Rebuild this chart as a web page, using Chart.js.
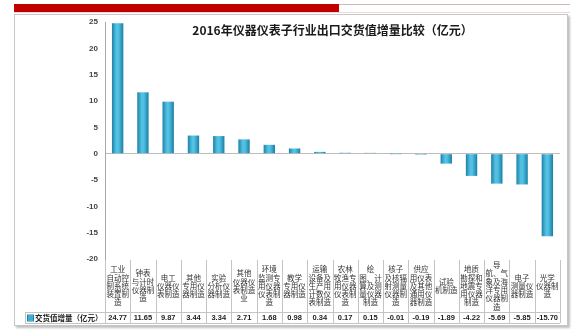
<!DOCTYPE html>
<html>
<head>
<meta charset="utf-8">
<script src="https://cdn.jsdelivr.net/npm/chart.js@4.4.1/dist/chart.umd.min.js"></script>
<style>
  html, body { margin: 0; padding: 0; background: #fff; }
  #wrap { position: relative; width: 580px; height: 336px; overflow: hidden; }
  .redbar { position: absolute; left: 14px; top: 4px; width: 325px; height: 8px; background: #c00000; }
  .thinline { position: absolute; left: 339px; top: 4px; width: 231px; height: 1px; background: #d6b8b8; }
  .pinkline { position: absolute; left: 14px; top: 12px; width: 556px; height: 1px; background: #efd6d6; }
  .frame { position: absolute; left: 14px; top: 14px; width: 552px; height: 310px; border: 1px solid #c6c6c6; box-shadow: 2px 2px 2px #c0c0c0; }
  canvas { position: absolute; left: 0; top: 0; }
</style>
</head>
<body>
<div id="wrap">
  <div class="redbar"></div>
  <div class="thinline"></div>
  <div class="pinkline"></div>
  <div class="frame"></div>
  <canvas id="bar-chart" width="580" height="336"></canvas>
</div>
<script>
// data
const chartTitle = '2016年仪器仪表子行业出口交货值增量比较（亿元）';
const seriesName = '交货值增量（亿元）';
const categories = [
  ['工业', '自动控', '制系统', '装置制', '造'],
  ['钟表', '与计时', '仪器制', '造'],
  ['电工', '仪器仪', '表制造'],
  ['其他', '专用仪', '器制造'],
  ['实验', '分析仪', '器制造'],
  ['其他', '仪器仪', '表制造', '业'],
  ['环境', '监测专', '用仪器', '仪表制', '造'],
  ['教学', '专用仪', '器制造'],
  ['运输', '设备及', '生产用', '计数仪', '表制造'],
  ['农林', '牧渔专', '用仪器', '仪表制', '造'],
  ['绘', '图、计', '算及测', '量仪器', '制造'],
  ['核子', '及核辐', '射测量', '仪器制', '造'],
  ['供应', '用仪表', '及其他', '通用仪', '器制造'],
  ['试验', '机制造'],
  ['地质', '勘探和', '地震专', '用仪器', '制造'],
  ['导', '航、气', '象及海', '洋专用', '仪器制', '造'],
  ['电子', '测量仪', '器制造'],
  ['光学', '仪器制', '造']
];
const values = [24.77, 11.65, 9.87, 3.44, 3.34, 2.71, 1.68, 0.98, 0.34, 0.17, 0.15, -0.01, -0.19, -1.89, -4.22, -5.69, -5.85, -15.70];
const yMin = -20;
const yMax = 25;
const yStep = 5;

const barPct = 0.45;

// titel di dalam area plot (overlay)
const titlePlugin = {
  id: 'overlayTitle',
  afterDraw(chart) {
    const { ctx, chartArea: a } = chart;
    ctx.save();
    ctx.font = 'bold 12px "Noto Sans CJK SC"';
    ctx.fillStyle = '#1a1a1a';
    ctx.textAlign = 'center';
    ctx.textBaseline = 'middle';
    ctx.fillText(chartTitle, (a.left + a.right) / 2, 30);
    ctx.restore();
  }
};

// tabel data di bawah grafik
const tablePlugin = {
  id: 'dataTable',
  afterDraw(chart) {
    const { ctx, chartArea: a, scales: { x } } = chart;
    const n = categories.length;
    const colW = (a.right - a.left) / n;
    const top = a.bottom + 1;
    const mid = top + 52;
    const bot = mid + 11;
    const legendLeft = 25;

    ctx.save();
    ctx.strokeStyle = '#c4c4c4';
    ctx.lineWidth = 1;
    ctx.beginPath();
    for (let i = 0; i <= n; i++) {
      const px = Math.round(a.left + i * colW) + 0.5;
      ctx.moveTo(px, top);
      ctx.lineTo(px, bot);
    }
    ctx.moveTo(legendLeft + 0.5, mid);
    ctx.lineTo(legendLeft + 0.5, bot);
    ctx.moveTo(legendLeft, mid + 0.5);
    ctx.lineTo(a.right, mid + 0.5);
    ctx.moveTo(legendLeft, bot + 0.5);
    ctx.lineTo(a.right, bot + 0.5);
    ctx.stroke();

    // nama kategori
    ctx.fillStyle = '#333';
    ctx.textAlign = 'center';
    ctx.textBaseline = 'middle';
    ctx.font = '7.5px "Noto Sans CJK SC"';
    const lh = 8.3;
    const cy = (top + mid) / 2;
    categories.forEach((lines, i) => {
      const cx = x.getPixelForValue(i);
      const y0 = cy - (lines.length - 1) * lh / 2;
      lines.forEach((t, j) => ctx.fillText(t, cx, y0 + j * lh));
    });

    // nilai
    const vy = (mid + bot) / 2 + 0.5;
    ctx.font = 'bold 7.5px "Liberation Sans"';
    ctx.fillStyle = '#222';
    values.forEach((v, i) => {
      ctx.fillText(v.toFixed(2), x.getPixelForValue(i), vy);
    });

    // legenda
    ctx.fillStyle = '#3aaed3';
    ctx.strokeStyle = '#1d84a8';
    ctx.fillRect(28, vy - 2.5, 5, 5);
    ctx.strokeRect(27.5, vy - 3, 6, 6);
    ctx.fillStyle = '#222';
    ctx.textAlign = 'left';
    ctx.font = 'bold 7.5px "Noto Sans CJK SC"';
    ctx.fillText(seriesName, 35, vy);
    ctx.restore();
  }
};

const ctx = document.getElementById('bar-chart').getContext('2d');

const myChart = new Chart(ctx, {
  type: 'bar',
  data: {
    labels: categories,
    datasets: [{
      label: seriesName,
      data: values,
      backgroundColor: function (c) {
        const chart = c.chart;
        const xs = chart.scales.x;
        if (c.dataIndex === undefined || !chart.chartArea || !xs) return '#3aaed3';
        const cx = xs.getPixelForValue(c.dataIndex);
        const w = (chart.chartArea.right - chart.chartArea.left) / categories.length * barPct;
        const g = chart.ctx.createLinearGradient(cx - w / 2, 0, cx + w / 2, 0);
        g.addColorStop(0, '#1c82a8');
        g.addColorStop(0.4, '#56c3e4');
        g.addColorStop(0.6, '#4dbde0');
        g.addColorStop(1, '#1a7ea3');
        return g;
      },
      borderWidth: 0,
      barPercentage: barPct,
      categoryPercentage: 1
    }]
  },
  options: {
    responsive: false,
    animation: false,
    layout: {
      padding: { left: 14, right: 20, top: 22, bottom: 77 }
    },
    plugins: {
      legend: { display: false },
      title: { display: false },
      tooltip: { enabled: false }
    },
    scales: {
      x: {
        display: false
      },
      y: {
        min: yMin,
        max: yMax,
        afterFit(scale) { scale.width = 91; },
        ticks: {
          stepSize: yStep,
          padding: 7,
          color: '#444',
          font: { family: 'Liberation Sans', size: 8, weight: 'bold' }
        },
        grid: {
          drawTicks: false,
          color: c => (c.tick && c.tick.value === 0 ? '#bdbdbd' : 'rgba(0,0,0,0)')
        },
        border: { color: '#a8a8a8' }
      }
    }
  },
  plugins: [titlePlugin, tablePlugin]
});
</script>
</body>
</html>
